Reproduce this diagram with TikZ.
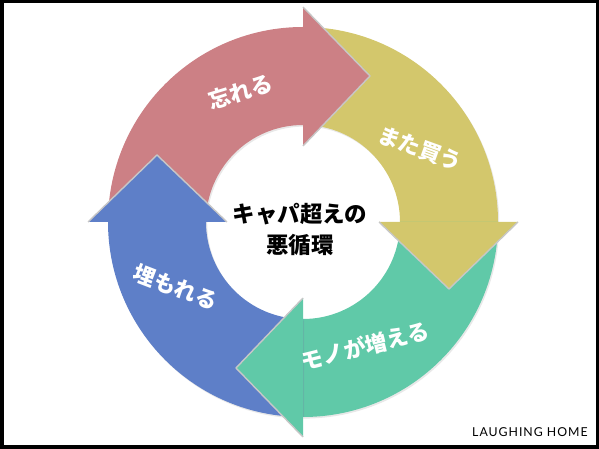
\documentclass[tikz,border=0pt]{standalone}
\usepackage{fontspec}
\newfontfamily\jpfont{Noto Sans CJK JP}
\newfontfamily\brandfont{Lato}[LetterSpace=8]
\usetikzlibrary{calc}
\usetikzlibrary{shadows}

\definecolor{forgetcol}{RGB}{204,128,133}
\definecolor{buycol}{RGB}{211,199,108}
\definecolor{growcol}{RGB}{96,201,168}
\definecolor{burycol}{RGB}{94,127,200}

\begin{document}
\begin{tikzpicture}[
	lbl/.style={text=white, inner sep=0pt,
		font=\jpfont\bfseries\fontsize{12.5}{14}\selectfont},
	headedge/.style={draw=white!78!black, line width=0.8pt, line join=round},
	soft/.style={drop shadow={opacity=0.18, shadow xshift=0.7pt, shadow yshift=-0.9pt}},
	]
	% Frame
	% -----
	\useasboundingbox (0,0) rectangle (11.98,8.98);
	\draw[line width=0.07cm] (0.035,0.035) rectangle (11.945,8.945);

	% cycle centre and radii
	\coordinate (c) at (6.06,4.54);
	\def\rout{3.9cm}
	\def\rin{1.94cm}
	\def\rmid{2.92cm}
	\def\hin{1.52cm}
	\def\hout{4.3cm}
	\def\hlen{1.34cm}

	% the four bands (heads go on top afterwards)
	\foreach \s/\col in {90/forgetcol, 0/buycol, -90/growcol, 180/burycol}
	{
		\pgfmathsetmacro{\e}{\s+90}
		\fill[\col, soft] ($(c)+(\e:\rout)$) arc[start angle=\e, end angle=\s, radius=\rout]
			-- ($(c)+(\s:\rin)$) arc[start angle=\s, end angle=\e, radius=\rin] -- cycle;
	}

	% arrow heads
	\foreach \s/\col in {90/forgetcol, 0/buycol, -90/growcol, 180/burycol}
	{
		\pgfmathsetmacro{\t}{\s-90}
		\coordinate (base) at ($(c)+(\s:\rmid)$);
		\fill[\col] ($(c)+(\s:\hin)$) -- ($(base)+(\t:\hlen)$) -- ($(c)+(\s:\hout)$) -- cycle;
		\draw[headedge] ($(c)+(\s:\hin)$) -- ($(base)+(\t:\hlen)$) -- ($(c)+(\s:\hout)$);
	}

	% labels on the arrows
	\node[lbl, rotate=17]  (forget) at (4.82,7.14) {忘れる};
	\node[lbl, rotate=-20] (buy)    at (8.40,6.00) {また買う};
	\node[lbl, rotate=14]  (grow)   at (7.30,2.06) {モノが増える};
	\node[lbl, rotate=-21] (bury)   at (3.52,3.24) {埋もれる};

	% centre text
	\node[align=center, inner sep=0pt,
		  font=\jpfont\bfseries\fontsize{12.8}{17.6}\selectfont]
		  (title) at (6.0,4.4) {キャパ超えの\\悪循環};

	\node[anchor=east, inner sep=0pt, font=\brandfont\fontsize{7}{8}\selectfont]
		  (brand) at (11.76,0.34) {LAUGHING HOME};
\end{tikzpicture}
\end{document}
